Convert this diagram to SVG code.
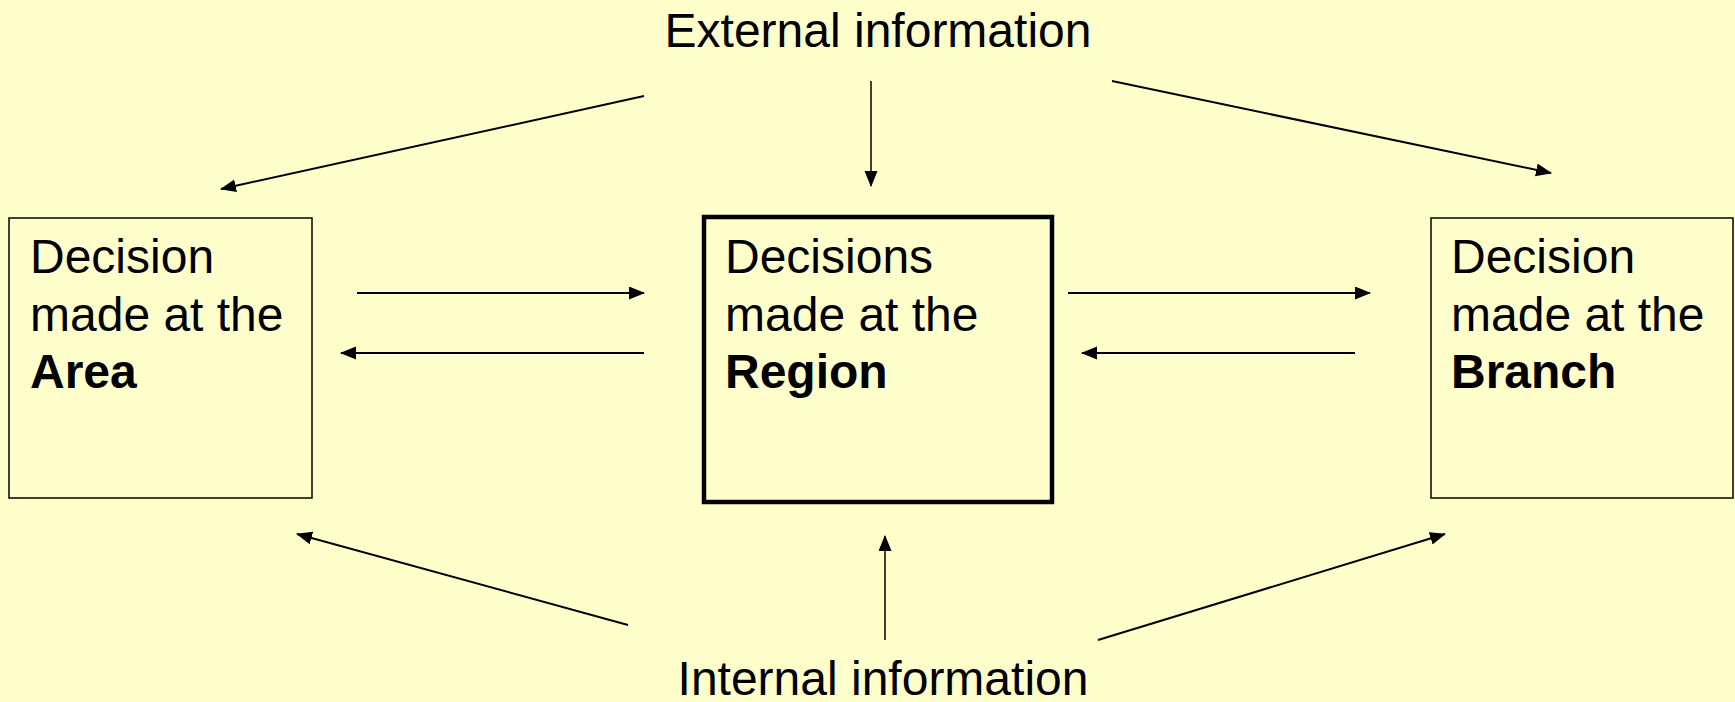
<svg xmlns="http://www.w3.org/2000/svg" width="1735" height="702" viewBox="0 0 1735 702">
  <style>
    .lbl { font-family: "Liberation Sans", Arial, sans-serif; font-size: 48px; fill: #000; }
    .b { font-weight: bold; }
    .box { fill: #FFFFCC; stroke: #000; stroke-width: 1.5; }
    .boxb { fill: #FFFFCC; stroke: #000; stroke-width: 4.5; }
    .con { stroke: #000; stroke-width: 2; fill: none; marker-end: url(#ah); }
    .thin { stroke-width: 1.5; }
  </style>
  <defs>
    <marker id="ah" markerUnits="userSpaceOnUse" markerWidth="18" markerHeight="14" refX="15" refY="6.5" orient="auto">
      <path d="M0,0 L16,6.5 L0,13 z" fill="#000"/>
    </marker>
  </defs>
  <rect width="1735" height="702" fill="#FFFFCC"/>

  <g id="external">
    <text class="lbl" x="878" y="47" text-anchor="middle">External information</text>
  </g>
  <g id="internal">
    <text class="lbl" x="883" y="695" text-anchor="middle">Internal information</text>
  </g>

  <g id="area">
    <rect class="box" x="9" y="218" width="303" height="280"/>
    <text class="lbl" x="30" y="273">Decision</text>
    <text class="lbl" x="30" y="331">made at the</text>
    <text class="lbl b" x="30" y="388">Area</text>
  </g>
  <g id="region">
    <rect class="boxb" x="704" y="217" width="348" height="285"/>
    <text class="lbl" x="725" y="273">Decisions</text>
    <text class="lbl" x="725" y="331">made at the</text>
    <text class="lbl b" x="725" y="388">Region</text>
  </g>
  <g id="branch">
    <rect class="box" x="1431" y="218" width="302" height="280"/>
    <text class="lbl" x="1451" y="273">Decision</text>
    <text class="lbl" x="1451" y="331">made at the</text>
    <text class="lbl b" x="1451" y="388">Branch</text>
  </g>

  <g id="connectors">
    <line class="con" x1="357" y1="293" x2="644" y2="293"/>
    <line class="con" x1="644" y1="353" x2="341" y2="353"/>
    <line class="con" x1="1068" y1="293" x2="1370" y2="293"/>
    <line class="con" x1="1355" y1="353" x2="1082" y2="353"/>
    <line class="con" x1="644" y1="96" x2="221" y2="189"/>
    <line class="con thin" x1="871" y1="81" x2="871" y2="186"/>
    <line class="con" x1="1112" y1="81" x2="1551" y2="173"/>
    <line class="con" x1="628" y1="625" x2="297" y2="534"/>
    <line class="con thin" x1="885" y1="640" x2="885" y2="536"/>
    <line class="con" x1="1098" y1="640" x2="1445" y2="534"/>
  </g>
</svg>
